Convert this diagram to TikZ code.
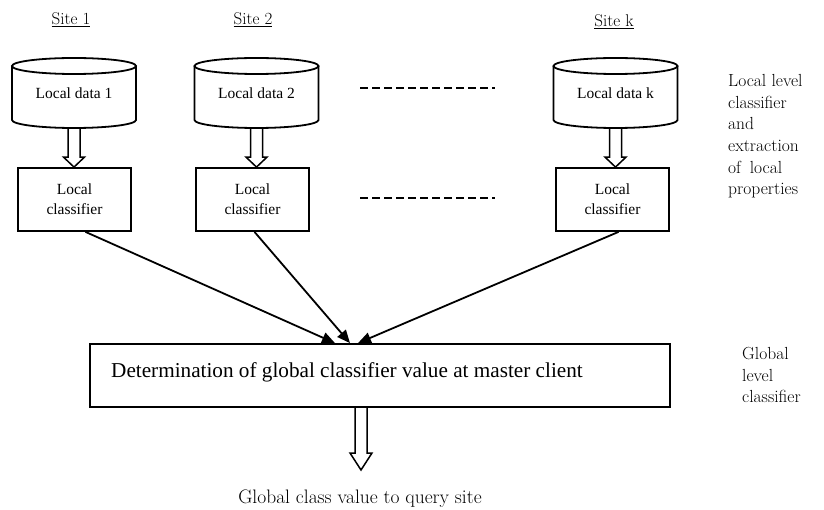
\documentclass[tikz,border=0pt]{standalone}
\usepackage{fontspec}
\newfontfamily\timesf{Liberation Serif}
\usetikzlibrary{arrows.meta,calc}
\newcommand\drawcyl[2]{%
  \draw[cylline] (#1,66) ellipse[x radius=#2pt, y radius=8pt];
  \draw[cylline] (#1-#2,66) -- (#1-#2,120) arc[start angle=180, end angle=360, x radius=#2pt, y radius=8pt] -- (#1+#2,66);
}
\newcommand\hollowarr[4]{% from, to, head length, head half width
  \draw[hollow] let \p1=(#1), \p2=(#2) in
    (\x1-6pt,\y1) -- (\x1-6pt,\y2+#3pt) -- (\x1-#4pt,\y2+#3pt) -- (\x1,\y2)
    -- (\x1+#4pt,\y2+#3pt) -- (\x1+6pt,\y2+#3pt) -- (\x1+6pt,\y1);
}
\begin{document}
\begin{tikzpicture}[x=1pt,y=-1pt,
  cylline/.style={line width=1.8pt},
  hollow/.style={line width=1.5pt, line join=miter},
  cyltext/.style={minimum width=124pt, minimum height=70pt, inner sep=0pt,
    font=\timesf\fontsize{15.5}{20}\selectfont},
  clbox/.style={draw, line width=1.8pt, minimum width=113pt, minimum height=63pt,
    inner sep=0pt, align=center, font=\timesf\fontsize{15.5}{20}\selectfont},
  sitelab/.style={inner sep=0pt, font=\fontsize{17}{20}\selectfont},
  sidelab/.style={inner sep=0pt, align=left, anchor=north west,
    font=\fontsize{17.5}{21.7}\selectfont},
  conn/.style={line width=1.8pt, -{Triangle[length=13pt,width=11pt]}},
  dots/.style={line width=1.3pt, dash pattern=on 8pt off 4pt}]
\useasboundingbox (0,0) rectangle (824,510);

% site labels
\node[sitelab] (s1) at (71,19.5) {\underline{Site 1}};
\node[sitelab] (s2) at (253,19.5) {\underline{Site 2}};
\node[sitelab] (sk) at (614,21.5) {\underline{Site k}};

% cylinders
\drawcyl{74}{62}
\drawcyl{256.5}{62}
\drawcyl{615.5}{62}
\node[cyltext] (c1) at (74,93) {Local data 1};
\node[cyltext] (c2) at (256.5,93) {Local data 2};
\node[cyltext] (ck) at (615.5,93) {Local data k};

% local classifier boxes
\node[clbox] (b1) at (74.5,199.5) {Local\\classifier};
\node[clbox] (b2) at (252.5,199.5) {Local\\classifier};
\node[clbox] (bk) at (612.5,199.5) {Local\\classifier};

% hollow arrows
\hollowarr{c1.south}{b1.north}{10}{10.5}
\hollowarr{c2.south}{b2.north}{10}{10.5}
\hollowarr{ck.south}{bk.north}{10}{10.5}

% dashed lines
\draw[dots] (360,88) -- (495,88);
\draw[dots] (360,198) -- (495,198);

% global box
\node[draw, line width=1.8pt, minimum width=580pt, minimum height=63pt, inner sep=0pt] (g) at (380,375.5) {};
\node[anchor=west, inner sep=0pt, font=\timesf\fontsize{21.2}{25}\selectfont] (gt) at (111,372)
  {Determination of global classifier value at master client};

% arrows to global
\draw[conn] ($(b1.south)+(11,0)$) -- ($(g.north)+(-45,0)$);
\draw[conn] ($(b2.south)+(2,0)$) -- ($(g.north)+(-30,0)$);
\draw[conn] ($(bk.south)+(6,0)$) -- ($(g.north)+(-22,0)$);

% output
\coordinate (tip) at (361,470);
\hollowarr{$(g.south)+(-19,0)$}{tip}{17}{11}
\node[anchor=base, inner sep=0pt, font=\fontsize{19.5}{23}\selectfont] (q) at (360,503)
  {Global class value to query site};

% side labels
\node[sidelab] (side1) at (728,74) {Local level\\classifier\\and\\extraction\\of\enspace local\\properties};
\node[sidelab] (side2) at (742,347) {Global\\level\\classifier};
\end{tikzpicture}
\end{document}
